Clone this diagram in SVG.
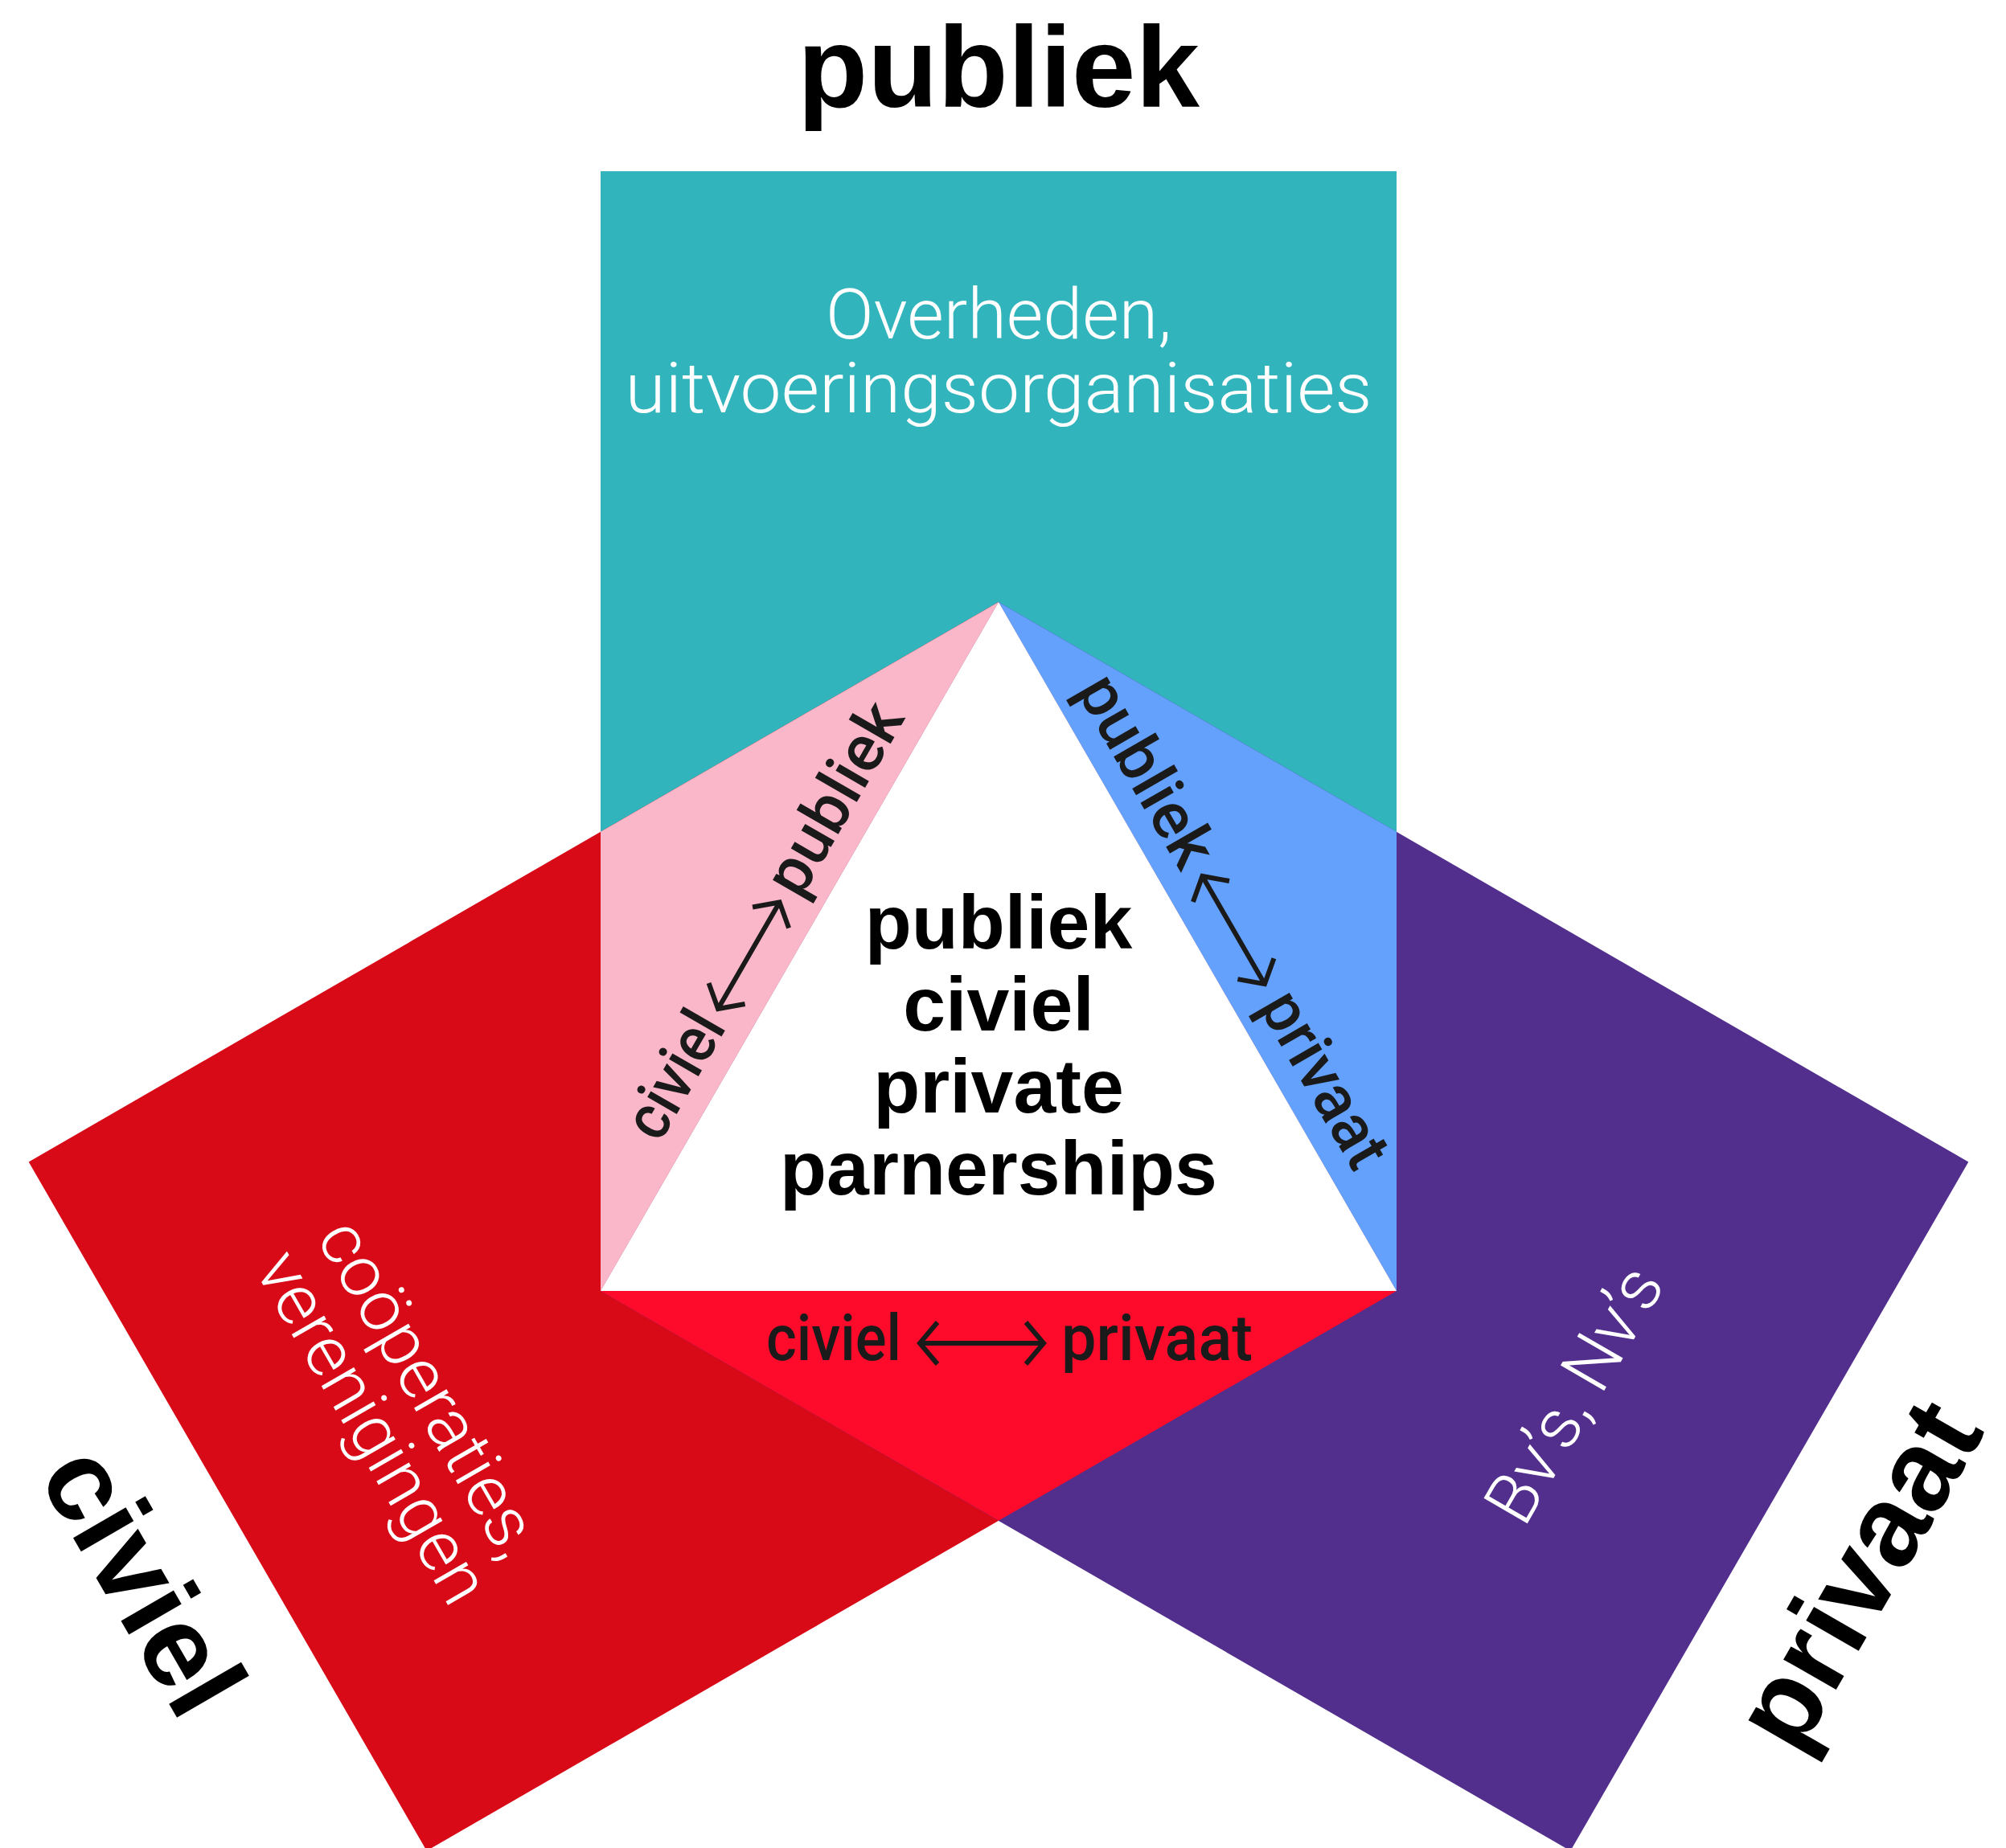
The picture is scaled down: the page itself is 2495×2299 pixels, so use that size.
<svg xmlns="http://www.w3.org/2000/svg" width="2495" height="2299" viewBox="0 0 2495 2299">
<style>
.title{font-family:"Liberation Sans",Arial,sans-serif;font-weight:700;font-size:143px;fill:#000;text-anchor:middle}
.ctr{font-family:"Liberation Sans",Arial,sans-serif;font-weight:700;font-size:95px;fill:#000;text-anchor:middle}
.strip{font-family:Roboto,"Liberation Sans",sans-serif;font-weight:500;font-size:80px;fill:#1a1a1a}
.wt{font-family:Roboto,"Liberation Sans",sans-serif;font-weight:300;font-size:88px;fill:#fff;text-anchor:middle}
.arr{fill:none;stroke:#1a1a1a;stroke-width:6}
</style>
<rect width="2495" height="2299" fill="#fff"/>
<g id="node-publiek">
<rect x="747" y="213" width="990" height="1393" fill="#31B4BB"/>
<text class="wt" x="1242" y="421">Overheden,</text>
<text class="wt" x="1242" y="513" textLength="929" lengthAdjust="spacingAndGlyphs">uitvoeringsorganisaties</text>
</g>
<g id="node-civiel">
<polygon points="1242,749 1737,1606 530.7,2302.5 35.7,1445.5" fill="#D80A17"/>
<g transform="translate(35.7,1445.5) rotate(60)">
<text class="wt" x="494" y="-262">coöperaties,</text>
<text class="wt" x="500" y="-176">verenigingen</text>
</g>
</g>
<g id="node-privaat">
<polygon points="1242,749 2448.3,1445.5 1953.3,2302.5 747,1606" fill="#522F8D"/>
<g transform="translate(1953.3,2302.5) rotate(-60)">
<text class="wt" x="494" y="-250">Bv’s, Nv’s</text>
</g>
</g>
<g id="overlap-civiel-publiek">
<polygon points="1242,749 747,1034.8 747,1606" fill="#FBB7CA"/>
</g>
<g id="overlap-publiek-privaat">
<polygon points="1242,749 1737,1034.8 1737,1606" fill="#63A1FD"/>
</g>
<g id="overlap-civiel-privaat">
<polygon points="747,1606 1737,1606 1242,1891.8" fill="#FE0B2C"/>
</g>
<g id="node-ppp">
<polygon points="1242,749 747,1606 1737,1606" fill="#fff"/>
<text class="ctr" x="1242" y="1180">publiek</text>
<text class="ctr" x="1242" y="1282">civiel</text>
<text class="ctr" x="1242" y="1384">private</text>
<text class="ctr" x="1242" y="1486">parnerships</text>
</g>
<g id="strip-labels">
<g transform="translate(747,1606) rotate(-60)">
<text class="strip" x="195" y="-28" textLength="168" lengthAdjust="spacingAndGlyphs">civiel</text>
<text class="strip" x="545" y="-28" textLength="262" lengthAdjust="spacingAndGlyphs">publiek</text>
</g>
<g transform="translate(1242,749) rotate(60)">
<text class="strip" x="143" y="-28" textLength="262" lengthAdjust="spacingAndGlyphs">publiek</text>
<text class="strip" x="597" y="-28" textLength="240" lengthAdjust="spacingAndGlyphs">privaat</text>
</g>
<text class="strip" x="953" y="1692" textLength="168" lengthAdjust="spacingAndGlyphs">civiel</text>
<text class="strip" x="1320" y="1692" textLength="238" lengthAdjust="spacingAndGlyphs">privaat</text>
</g>
<g id="connectors">
<path class="arr" transform="translate(747,1606) rotate(-60)" d="M377,-49 H530 M399,-75 L377,-49 L399,-23 M508,-75 L530,-49 L508,-23"/>
<path class="arr" transform="translate(1242,749) rotate(60)" d="M422,-49 H577 M444,-75 L422,-49 L444,-23 M555,-75 L577,-49 L555,-23"/>
<path class="arr" d="M1144,1671 H1298 M1166,1645 L1144,1671 L1166,1697 M1276,1645 L1298,1671 L1276,1697"/>
</g>
<g id="labels">
<text class="title" x="1242" y="133" textLength="500" lengthAdjust="spacingAndGlyphs">publiek</text>
<g transform="translate(35.7,1445.5) rotate(60)"><text class="title" x="522" y="186">civiel</text></g>
<g transform="translate(1953.3,2302.5) rotate(-60)"><text class="title" x="476" y="186">privaat</text></g>
</g>
</svg>
